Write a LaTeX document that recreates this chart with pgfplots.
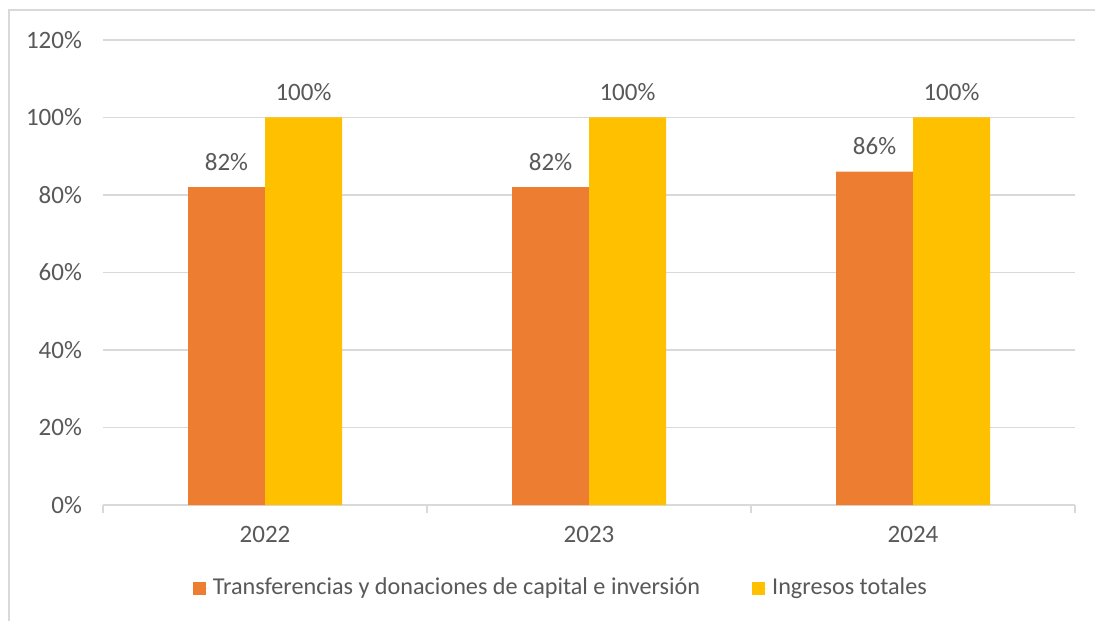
\documentclass[border=0pt]{standalone}
\usepackage{pgfplots}
\pgfplotsset{compat=1.18}
\usepackage{fontspec}
\setmainfont{Carlito}

\definecolor{barorange}{RGB}{237,125,49}
\definecolor{bargold}{RGB}{255,192,0}
\definecolor{txtgray}{RGB}{89,89,89}
\definecolor{gridgray}{RGB}{217,217,217}

\begin{document}
\begin{tikzpicture}
% 1 px of the reference = 0.5pt
\useasboundingbox (0pt,0pt) rectangle (547.5pt,310pt);
\fill[white] (0pt,0pt) rectangle (547.5pt,310pt);
\draw[gridgray, line width=1pt] (4.5pt,-3pt) -- (4.5pt,305pt) -- (550pt,305pt);

\begin{axis}[
    at={(51.5pt,57.5pt)}, anchor=south west,
    scale only axis,
    width=486pt, height=232.5pt,
    font=\fontsize{12.5}{14}\selectfont,
    /pgf/number format/assume math mode=true,
    ymin=0, ymax=120,
    ytick={0,20,...,120},
    yticklabel={\pgfmathprintnumber{\tick}\%},
    xmin=-0.5, xmax=2.5,
    xtick={0,1,2},
    xticklabels={2022,2023,2024},
    extra x ticks={-0.5,0.5,1.5,2.5},
    extra x tick labels={},
    extra x tick style={major tick length=4pt, tick style={gridgray, line width=0.75pt}, tick pos=bottom},
    major tick length=0pt,
    ticklabel style={text=txtgray},
    ymajorgrids,
    grid style={gridgray, line width=0.75pt},
    axis x line*=bottom,
    axis y line*=left,
    y axis line style={draw=none},
    x axis line style={gridgray, line width=0.75pt, -},
    yticklabel style={xshift=-7pt},
    xticklabel style={yshift=-7pt},
    ybar=0pt,
    bar width=38.5pt,
    nodes near coords={\pgfmathprintnumber{\pgfplotspointmeta}\%},
    nodes near coords style={anchor=base, yshift=8.5pt, inner sep=0pt, font=\fontsize{12.5}{14}\selectfont, text=txtgray},
    legend style={at={(0.472,-0.1785)}, anchor=center, draw=none, fill=none,
        legend columns=2, font=\fontsize{12.1}{14}\selectfont, text=txtgray,
        /tikz/every even column/.append style={column sep=24pt}},
    legend image code/.code={\fill[#1] (0pt,-3.25pt) rectangle (6.5pt,3.25pt);
        \path (0pt,0pt) -- (8pt,0pt);},
]
\addplot[fill=barorange, draw=none] coordinates {(0,82) (1,82) (2,86)};
\addlegendentry{Transferencias y donaciones de capital e inversión}
\addplot[fill=bargold, draw=none] coordinates {(0,100) (1,100) (2,100)};
\addlegendentry{Ingresos totales}
\end{axis}
\end{tikzpicture}
\end{document}
